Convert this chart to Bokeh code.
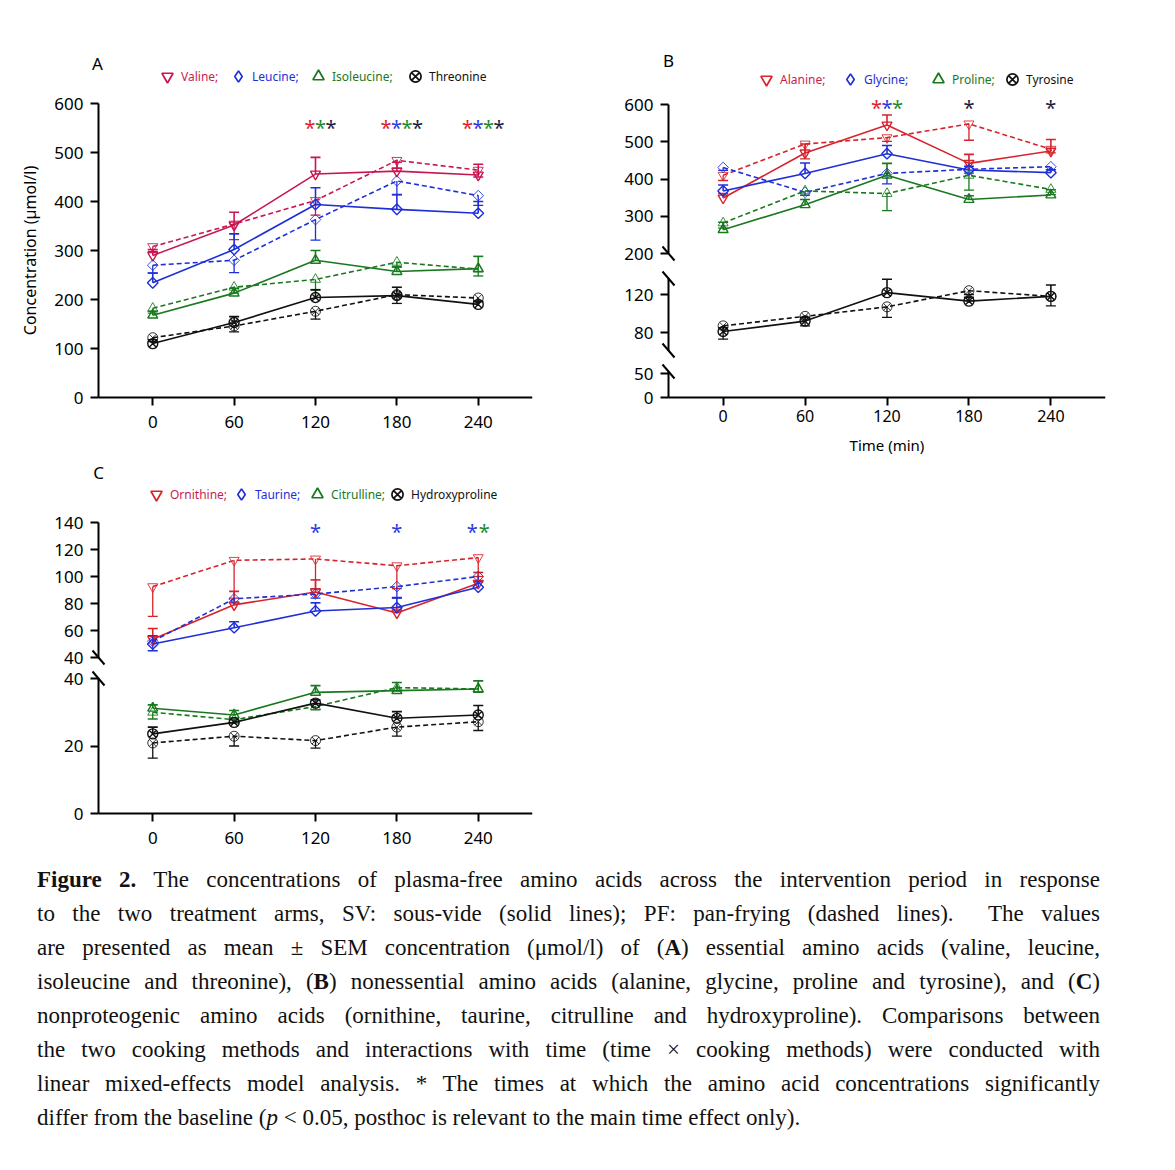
import numpy as np
from bokeh.plotting import figure
from bokeh.models import (ColumnDataSource, Whisker, TeeHead, Legend, LegendItem,
                          Label, Arrow, FixedTicker, Range1d, Div)
from bokeh.layouts import column, row
from bokeh.embed import file_html
from bokeh.resources import INLINE

# ---------------- data ----------------
times = [0, 60, 120, 180, 240]
x_ticks = [0, 60, 120, 180, 240]

# Panel A: essential amino acids (SV = solid, PF = dashed), mean and SEM
valine_sv = [290, 352, 456, 462, 454]
valine_sv_sem = [12, 26, 34, 18, 22]
valine_pf = [308, 354, 402, 484, 464]
valine_pf_sem = [10, 32, 30, 16, 14]
leucine_sv = [234, 302, 394, 384, 376]
leucine_sv_sem = [20, 32, 34, 30, 24]
leucine_pf = [270, 280, 363, 442, 412]
leucine_pf_sem = [16, 25, 42, 28, 20]
isoleucine_sv = [168, 213, 280, 257, 263]
isoleucine_sv_sem = [8, 10, 20, 10, 25]
isoleucine_pf = [182, 225, 241, 276, 262]
isoleucine_pf_sem = [10, 12, 22, 10, 14]
threonine_sv = [110, 153, 204, 208, 190]
threonine_sv_sem = [8, 12, 16, 17, 6]
threonine_pf = [122, 146, 176, 210, 203]
threonine_pf_sem = [8, 12, 16, 18, 6]

# Panel B: nonessential amino acids
alanine_sv = [349, 470, 545, 442, 475]
alanine_sv_sem = [12, 24, 27, 24, 31]
alanine_pf = [410, 494, 511, 548, 480]
alanine_pf_sem = [14, 40, 10, 44, 10]
glycine_sv = [368, 415, 468, 424, 417]
glycine_sv_sem = [16, 28, 22, 10, 8]
glycine_pf = [431, 364, 415, 426, 433]
glycine_pf_sem = [8, 8, 28, 10, 8]
proline_sv = [264, 331, 410, 345, 357]
proline_sv_sem = [20, 14, 32, 10, 14]
proline_pf = [282, 368, 361, 410, 372]
proline_pf_sem = [14, 12, 46, 40, 14]
tyrosine_sv = [81, 92, 122, 113, 118]
tyrosine_sv_sem = [4, 4, 14, 4, 12]
tyrosine_pf = [87, 97, 107, 124, 118]
tyrosine_pf_sem = [14, 10, 11, 4, 10]

# Panel C: nonproteogenic amino acids
ornithine_sv = [53.5, 79, 88.5, 73, 95]
ornithine_sv_sem = [8, 10, 9, 4, 8]
ornithine_pf = [92.5, 112, 113, 108, 114]
ornithine_pf_sem = [22, 28, 22, 17, 14]
taurine_sv = [50, 62, 74.5, 77, 92]
taurine_sv_sem = [6, 4.5, 6, 7, 4]
taurine_pf = [52, 83.5, 87, 92.5, 100]
taurine_pf_sem = [7, 3, 3, 8, 3]
citrulline_sv = [31.2, 29.2, 35.9, 36.4, 36.9]
citrulline_sv_sem = [1, 1.3, 2, 2.4, 2.4]
citrulline_pf = [30, 27.8, 31.7, 37.3, 36.9]
citrulline_pf_sem = [2, 1, 1, 1, 1]
hydroxyproline_sv = [23.6, 27, 32.7, 28.2, 29.2]
hydroxyproline_sv_sem = [2, 1, 1, 2, 2.8]
hydroxyproline_pf = [20.9, 22.9, 21.6, 25.6, 27.2]
hydroxyproline_pf_sem = [4.5, 2.9, 2.2, 2.7, 2.6]

# significance markers (time -> groups significant vs baseline)
sig_A = {120: ["red", "green", "black"], 180: ["red", "blue", "green", "black"],
         240: ["red", "blue", "green", "black"]}
sig_B = {120: ["red", "blue", "green"], 180: ["black"], 240: ["black"]}
sig_C = {120: ["blue"], 180: ["blue"], 240: ["blue", "green"]}

ticks_A = [0, 100, 200, 300, 400, 500, 600]
ticks_B_top = [200, 300, 400, 500, 600]
ticks_B_mid = [80, 120]
ticks_B_bot = [0, 50]
ticks_C_top = [40, 60, 80, 100, 120, 140]
ticks_C_bot = [0, 20, 40]

# ---------------- style ----------------
FONT = "Noto Sans"
RED_A = "#C8164F"
RED = "#D8232C"
LEG_RED = "#C81D52"
BLUE = "#1E2FD8"
GREEN = "#18791E"
BLACK = "#111111"
AST = {"red": "#E11D2F", "blue": "#2B3BE0", "green": "#1E8B2E", "black": "#1C1C3C"}
X0 = -40  # left end of the time axis


def frame(g):
    fl = g["fx"] + g["bl"]
    ft = g["fy"] + g["bt"]
    fw = g["W"] - g["bl"] - g["br"]
    fh = g["H"] - g["bt"] - g["bb"]
    return fl, ft, fw, fh


def to_data(g, px, py):
    fl, ft, fw, fh = frame(g)
    x0, x1 = g["xr"]
    y0, y1 = g["yr"]
    return (x0 + (px - fl) / fw * (x1 - x0), y1 - (py - ft) / fh * (y1 - y0))


def make_fig(fx, fy, W, H, bl, br, bt, bb, axis_px, sx, yref, sy, xaxis, yticks, ybounds,
             xlabel_size="17px", xstandoff=10):
    fl, fr = fx + bl, fx + W - br
    ft, fbm = fy + bt, fy + H - bb
    xr = (X0 - (axis_px - fl) / sx, X0 + (fr - axis_px) / sx)
    yv, ypx = yref
    yr = (yv - (fbm - ypx) / sy, yv + (ypx - ft) / sy)
    p = figure(width=W, height=H, x_range=Range1d(*xr), y_range=Range1d(*yr),
               output_backend="svg", toolbar_location=None,
               min_border_left=bl, min_border_right=br, min_border_top=bt, min_border_bottom=bb,
               x_axis_location="below" if xaxis else None)
    p.outline_line_color = None
    p.background_fill_color = "white"
    for gr in p.grid:
        gr.visible = False
    for ax in p.axis:
        ax.axis_line_width = 2
        ax.axis_line_color = "black"
        ax.major_tick_line_width = 2
        ax.major_tick_out = 8
        ax.major_tick_in = 0
        ax.minor_tick_out = 0
        ax.minor_tick_in = 0
        ax.major_label_text_font = FONT
        ax.major_label_text_color = "black"
        ax.axis_label_text_font = FONT
        ax.axis_label_text_font_style = "normal"
        ax.axis_label_text_color = "black"
    ya = p.yaxis[0]
    ya.fixed_location = X0
    ya.ticker = FixedTicker(ticks=yticks)
    ya.major_label_text_font_size = "17px"
    ya.major_label_standoff = 7
    ya.bounds = ybounds
    if xaxis:
        xa = p.xaxis[0]
        xa.fixed_location = 0
        xa.ticker = FixedTicker(ticks=x_ticks)
        xa.major_label_text_font_size = xlabel_size
        xa.major_label_standoff = xstandoff
        xa.bounds = (X0, 280)
    g = dict(fx=fx, fy=fy, W=W, H=H, bl=bl, br=br, bt=bt, bb=bb, xr=xr, yr=yr)
    return p, g


def draw_series(p, sv, sv_sem, pf, pf_sem, color, marker, msize, angle=0.0):
    p.line(times, pf, line_color=color, line_width=1.6, line_dash="5 3")
    p.line(times, sv, line_color=color, line_width=1.6)
    src_sv = ColumnDataSource(dict(x=times, lo=sv, up=[v + s for v, s in zip(sv, sv_sem)]))
    src_pf = ColumnDataSource(dict(x=times, lo=[v - s for v, s in zip(pf, pf_sem)], up=pf))
    p.add_layout(Whisker(source=src_sv, base="x", lower="lo", upper="up", line_color=color,
                         line_width=1.6, upper_head=TeeHead(size=10, line_color=color, line_width=1.6),
                         lower_head=None))
    p.add_layout(Whisker(source=src_pf, base="x", lower="lo", upper="up", line_color=color,
                         line_width=1.3, lower_head=TeeHead(size=10, line_color=color, line_width=1.3),
                         upper_head=None))
    p.scatter(times, pf, marker=marker, size=msize, angle=angle, line_color=color,
              fill_color=None, line_width=1.0, line_alpha=0.85)
    p.scatter(times, sv, marker=marker, size=msize, angle=angle, line_color=color,
              fill_color=None, line_width=1.4)


def add_legend(p, g, marker, line_color, label, text_color, xc, yc, gsize=28):
    fl, ft, fw, fh = frame(g)
    # legend-only proxy glyph (a single undefined point, so nothing is drawn in the plot)
    proxy = p.scatter(x=[np.nan], y=[np.nan], marker=marker, size=10, line_color=line_color,
                      fill_color=None, line_width=1.7)
    cx = xc - 2
    leg = Legend(items=[LegendItem(label=label, renderers=[proxy])],
                 location=(cx - gsize / 2 - fl, ft + fh - (yc + gsize / 2)),
                 glyph_width=gsize, glyph_height=gsize, label_standoff=0,
                 padding=0, margin=0, spacing=0, border_line_color=None,
                 background_fill_alpha=0, label_text_color=text_color, label_text_font=FONT,
                 label_text_font_size="12px", label_height=gsize)
    p.add_layout(leg)


def add_break(p, g, px, py):
    x0, y0 = to_data(g, px - 6, py - 7)
    x1, y1 = to_data(g, px + 6, py + 7)
    p.add_layout(Arrow(end=None, x_start=x0, y_start=y0, x_end=x1, y_end=y1,
                       line_width=2, line_color="black"))


def add_stars(p, g, sig, py, spacing, shift):
    for t, cols in sig.items():
        _, y = to_data(g, 0, py + 3)
        k = len(cols)
        for i, c in enumerate(cols):
            p.add_layout(Label(x=t, y=y, x_offset=(i - (k - 1) / 2) * spacing + shift, text="*",
                               text_color=AST[c], text_font=FONT, text_font_size="20px",
                               text_align="center", text_baseline="middle"))


def add_letter(p, g, text, px, py):
    x, y = to_data(g, px, py)
    p.add_layout(Label(x=x, y=y, text=text, text_font=FONT, text_font_size="17px",
                       text_align="center", text_baseline="middle", text_color="black"))


SX_AC = 434 / 320
SX_B = 437 / 320

# ---------------- panel A ----------------
pA, gA = make_fig(0, 0, 542, 462, 10, 10, 40, 0, 98, SX_AC, (0, 397), 0.49, True, ticks_A, (0, 600))
pA.yaxis[0].axis_label = "Concentration (\u00b5mol/l)"
pA.yaxis[0].axis_label_text_font_size = "16px"
pA.yaxis[0].axis_label_standoff = 10
draw_series(pA, valine_sv, valine_sv_sem, valine_pf, valine_pf_sem, RED_A, "inverted_triangle", 10)
draw_series(pA, leucine_sv, leucine_sv_sem, leucine_pf, leucine_pf_sem, BLUE, "square", 7.5, np.pi / 4)
draw_series(pA, isoleucine_sv, isoleucine_sv_sem, isoleucine_pf, isoleucine_pf_sem, GREEN, "triangle", 10)
draw_series(pA, threonine_sv, threonine_sv_sem, threonine_pf, threonine_pf_sem, BLACK, "circle_x", 10)
add_legend(pA, gA, "inverted_triangle", RED_A, "Valine;", LEG_RED, 169, 76)
add_legend(pA, gA, "diamond", BLUE, "Leucine;", BLUE, 240, 76)
add_legend(pA, gA, "triangle", GREEN, "Isoleucine;", GREEN, 320, 76)
add_legend(pA, gA, "circle_x", BLACK, "Threonine", BLACK, 417, 76)
add_stars(pA, gA, sig_A, 124, 10.5, 5)
add_letter(pA, gA, "A", 97, 63)

# ---------------- panel B ----------------
pB1, gB1 = make_fig(542, 0, 573, 265, 20, 10, 40, 0, 668, SX_B, (200, 253), 0.3725, False,
                    ticks_B_top, (200, 600))
pB2, gB2 = make_fig(542, 265, 573, 95, 20, 10, 0, 0, 668, SX_B, (120, 294), 0.95, False,
                    ticks_B_mid, (120 - 56 / 0.95, 120 + 16 / 0.95))
pB3, gB3 = make_fig(542, 360, 573, 102, 20, 10, 0, 0, 668, SX_B, (0, 397), 0.48, True,
                    ticks_B_bot, (0, 26 / 0.48), xlabel_size="16px", xstandoff=4)
pB3.xaxis[0].axis_label = "Time (min)"
pB3.xaxis[0].axis_label_text_font_size = "15px"
pB3.xaxis[0].axis_label_standoff = 10
draw_series(pB1, alanine_sv, alanine_sv_sem, alanine_pf, alanine_pf_sem, RED, "inverted_triangle", 10)
draw_series(pB1, glycine_sv, glycine_sv_sem, glycine_pf, glycine_pf_sem, BLUE, "square", 7.5, np.pi / 4)
draw_series(pB1, proline_sv, proline_sv_sem, proline_pf, proline_pf_sem, GREEN, "triangle", 10)
draw_series(pB2, tyrosine_sv, tyrosine_sv_sem, tyrosine_pf, tyrosine_pf_sem, BLACK, "circle_x", 10)
add_legend(pB1, gB1, "inverted_triangle", RED, "Alanine;", LEG_RED, 768, 79)
add_legend(pB1, gB1, "diamond", BLUE, "Glycine;", BLUE, 852, 79)
add_legend(pB1, gB1, "triangle", GREEN, "Proline;", GREEN, 940, 79)
add_legend(pB1, gB1, "circle_x", BLACK, "Tyrosine", BLACK, 1014, 79)
add_stars(pB1, gB1, sig_B, 104, 10.5, 0)
add_letter(pB1, gB1, "B", 668, 60)
add_break(pB1, gB1, 668, 253)
add_break(pB2, gB2, 668, 278)
add_break(pB2, gB2, 668, 350)
add_break(pB3, gB3, 668, 371)

# ---------------- panel C ----------------
pC1, gC1 = make_fig(0, 462, 542, 205, 10, 10, 0, 0, 98, SX_AC, (40, 657), 1.35, False,
                    ticks_C_top, (40, 140))
pC2, gC2 = make_fig(0, 667, 542, 196, 10, 10, 0, 0, 98, SX_AC, (0, 813), 3.375, True,
                    ticks_C_bot, (0, 40))
draw_series(pC1, ornithine_sv, ornithine_sv_sem, ornithine_pf, ornithine_pf_sem, RED, "inverted_triangle", 10)
draw_series(pC1, taurine_sv, taurine_sv_sem, taurine_pf, taurine_pf_sem, BLUE, "square", 7.5, np.pi / 4)
draw_series(pC2, citrulline_sv, citrulline_sv_sem, citrulline_pf, citrulline_pf_sem, GREEN, "triangle", 10)
draw_series(pC2, hydroxyproline_sv, hydroxyproline_sv_sem, hydroxyproline_pf, hydroxyproline_pf_sem,
            BLACK, "circle_x", 10)
add_legend(pC1, gC1, "inverted_triangle", RED, "Ornithine;", LEG_RED, 158, 494)
add_legend(pC1, gC1, "diamond", BLUE, "Taurine;", BLUE, 243, 494)
add_legend(pC1, gC1, "triangle", GREEN, "Citrulline;", GREEN, 319, 494)
add_legend(pC1, gC1, "circle_x", BLACK, "Hydroxyproline", BLACK, 399, 494)
add_stars(pC1, gC1, sig_C, 528, 12, 0)
add_letter(pC1, gC1, "C", 98, 472)
add_break(pC1, gC1, 98, 657)
add_break(pC2, gC2, 98, 678)

# ---------------- caption ----------------
cap_lines = [
    "<b>Figure 2.</b> The concentrations of plasma-free amino acids across the intervention period in response",
    "to the two treatment arms, SV: sous-vide (solid lines); PF: pan-frying (dashed lines).&nbsp; The values",
    "are presented as mean \u00b1 SEM concentration (\u03bcmol/l) of (<b>A</b>) essential amino acids (valine, leucine,",
    "isoleucine and threonine), (<b>B</b>) nonessential amino acids (alanine, glycine, proline and tyrosine), and (<b>C</b>)",
    "nonproteogenic amino acids (ornithine, taurine, citrulline and hydroxyproline). Comparisons between",
    "the two cooking methods and interactions with time (time \u00d7 cooking methods) were conducted with",
    "linear mixed-effects model analysis. * The times at which the amino acid concentrations significantly",
    "differ from the baseline (<i>p</i> &lt; 0.05, posthoc is relevant to the main time effect only).",
]
parts = []
for i, ln in enumerate(cap_lines):
    last = "left" if i == len(cap_lines) - 1 else "justify"
    parts.append(f"<div style='text-align:justify;text-align-last:{last};white-space:nowrap;'>{ln}</div>")
cap_html = ("<div style=\"margin-left:37px;width:1063px;font-family:'Liberation Serif',serif;"
            "font-size:23px;line-height:34px;color:#111;\">" + "".join(parts) + "</div>")
caption = Div(text=cap_html, width=1120, height=290, margin=(0, 0, 0, 0))

layout = column(row(pA, column(pB1, pB2, pB3, spacing=0), spacing=0),
                column(pC1, pC2, spacing=0), caption, spacing=0)

open("out.html", "w").write(file_html(layout, INLINE, title="Figure 2"))
